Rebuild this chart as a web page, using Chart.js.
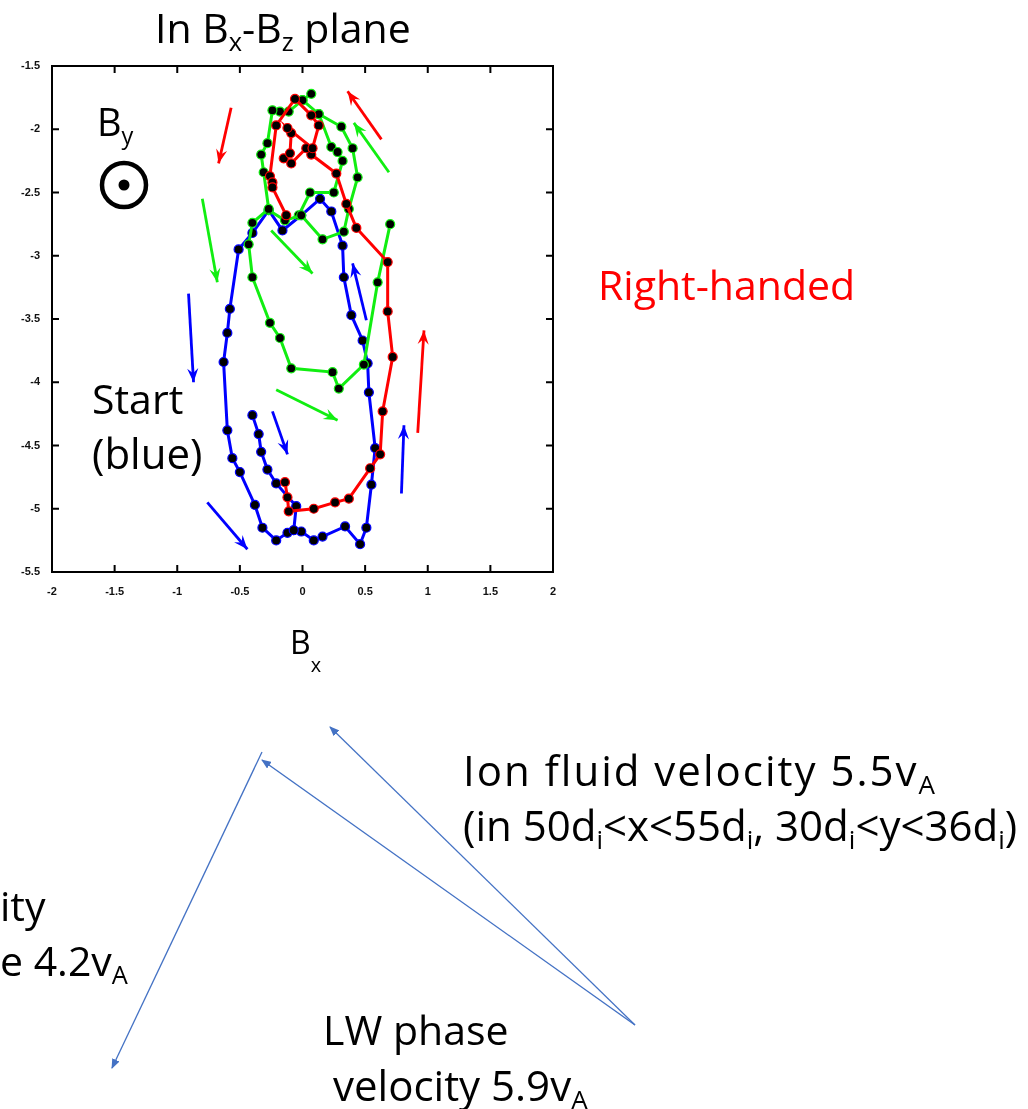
<!DOCTYPE html>
<html>
<head>
<meta charset="utf-8">
<script src="https://cdn.jsdelivr.net/npm/chart.js@4.4.1/dist/chart.umd.min.js"></script>
<style>
html, body { margin: 0; padding: 0; background: #fff; }
#wrap { position: relative; width: 1028px; height: 1109px; overflow: hidden; }
#c { position: absolute; left: 0; top: 0; }
svg { position: absolute; left: 0; top: 0; }
.t { position: absolute; font-family: 'Open Sans', sans-serif; line-height: 1; white-space: nowrap; color: #000; }
.t sub { font-size: 0.62em; vertical-align: -0.32em; line-height: 0; }
</style>
</head>
<body>
<div id="wrap">
<canvas id="c" width="1028" height="1109"></canvas>
<svg width="1028" height="1109">
  <defs>
    <marker id="ah" markerWidth="10" markerHeight="8" refX="9" refY="4" orient="auto" markerUnits="userSpaceOnUse">
      <path d="M0,0 L10,4 L0,8 z" fill="#4472c4"/>
    </marker>
  </defs>
  <circle cx="124" cy="185" r="22" fill="none" stroke="#000" stroke-width="4.5"/>
  <circle cx="124" cy="185" r="5.5" fill="#000"/>
  <line x1="635" y1="1025" x2="330" y2="727" stroke="#4472c4" stroke-width="1.3" marker-end="url(#ah)"/>
  <line x1="635" y1="1025" x2="262" y2="760" stroke="#4472c4" stroke-width="1.3" marker-end="url(#ah)"/>
  <line x1="262" y1="752" x2="112" y2="1068" stroke="#4472c4" stroke-width="1.3" marker-end="url(#ah)"/>
</svg>
<div class="t" style="left:155px;top:7px;font-size:41px">In B<sub>x</sub>-B<sub>z</sub> plane</div>
<div class="t" style="left:97px;top:102px;font-size:38px">B<sub>y</sub></div>
<div class="t" style="left:92px;top:378px;font-size:41px">Start</div>
<div class="t" style="left:92px;top:432px;font-size:42px">(blue)</div>
<div class="t" style="left:598px;top:264px;font-size:41px;color:#ff0000">Right-handed</div>
<div class="t" style="left:290px;top:626px;font-size:32px">B<sub style="vertical-align:-0.9em">x</sub></div>
<div class="t" style="left:463px;top:749px;font-size:42px;letter-spacing:2px">Ion fluid velocity 5.5v<sub>A</sub></div>
<div class="t" style="left:463px;top:804px;font-size:42px">(in 50d<sub>i</sub>&lt;x&lt;55d<sub>i</sub>, 30d<sub>i</sub>&lt;y&lt;36d<sub>i</sub>)</div>
<div class="t" style="left:0px;top:885px;font-size:41px">ity</div>
<div class="t" style="left:0px;top:940px;font-size:41px">e 4.2v<sub>A</sub></div>
<div class="t" style="left:323px;top:1009px;font-size:41px">LW phase</div>
<div class="t" style="left:333px;top:1064px;font-size:42px">velocity 5.9v<sub>A</sub></div>
</div>
<script>
// Bx, Bz samples for each time window
const bluePath = [
  [-0.40,-4.26],[-0.35,-4.41],[-0.33,-4.55],[-0.28,-4.69],[-0.21,-4.80],[-0.05,-4.98],
  [-0.07,-5.17],[-0.01,-5.18],[0.09,-5.25],[0.16,-5.22],[0.34,-5.14],[0.46,-5.28],
  [0.51,-5.15],[0.55,-4.81],[0.58,-4.52],[0.53,-4.08],[0.52,-3.85],[0.48,-3.67],
  [0.39,-3.47],[0.33,-3.17],[0.32,-2.92],[0.23,-2.65],[0.14,-2.55],[-0.01,-2.68],
  [-0.16,-2.80],[-0.27,-2.64],[-0.40,-2.82],[-0.51,-2.95],[-0.58,-3.42],[-0.60,-3.61],
  [-0.63,-3.84],[-0.60,-4.38],[-0.56,-4.60],[-0.50,-4.71],[-0.38,-4.97],[-0.32,-5.15],
  [-0.21,-5.25],[-0.12,-5.19],[-0.07,-5.17]
];
// null marks a break in the green trace
const greenPath = [
  [0.07,-1.72],[0.00,-1.77],[-0.11,-1.86],[-0.18,-1.86],[-0.24,-1.85],[-0.28,-2.11],
  [-0.33,-2.20],[-0.31,-2.34],[-0.27,-2.63],[-0.40,-2.74],[-0.43,-2.91],[-0.40,-3.17],
  [-0.26,-3.53],[-0.18,-3.65],[-0.09,-3.89],[0.24,-3.92],[0.29,-4.05],[0.49,-3.86],
  [0.60,-3.21],[0.70,-2.75],
  null,
  [0.00,-1.77],[0.13,-1.88],[0.31,-1.98],[0.40,-2.15],[0.44,-2.38],[0.37,-2.63],
  [0.33,-2.81],[0.16,-2.87],[-0.01,-2.68],[-0.14,-2.72],[-0.27,-2.64],
  null,
  [0.13,-1.88],[0.23,-2.14],[0.28,-2.18],[0.32,-2.25],[0.25,-2.50],[0.06,-2.50],[-0.03,-2.68]
];
const redPath = [
  [-0.14,-4.79],[-0.12,-4.91],[-0.11,-5.02],[0.09,-5.00],[0.26,-4.95],[0.37,-4.92],
  [0.54,-4.68],[0.62,-4.57],[0.64,-4.23],[0.72,-3.80],[0.68,-3.44],[0.68,-3.05],
  [0.43,-2.78],[0.35,-2.59],[0.27,-2.35],[0.07,-2.20],[0.03,-2.15],[-0.09,-2.27],
  [-0.15,-2.23],[-0.10,-2.19],[-0.09,-2.03],[-0.12,-1.99],[0.08,-2.15],[0.13,-1.97],
  [0.07,-1.89],[-0.06,-1.76],[-0.21,-1.97],[-0.26,-2.37],[-0.24,-2.42],[-0.24,-2.46],
  [-0.13,-2.68]
];
// direction arrows: [x0, y0, x1, y1] in Bx, Bz units
const blueArrows = [
  [-0.91,-3.30,-0.87,-4.00],[-0.24,-4.23,-0.12,-4.57],[-0.76,-4.95,-0.44,-5.32],
  [0.79,-4.88,0.81,-4.34],[0.51,-3.51,0.40,-3.06]
];
const greenArrows = [
  [0.69,-2.34,0.41,-1.95],[-0.80,-2.55,-0.68,-3.21],[-0.25,-2.80,0.08,-3.14],
  [-0.21,-4.06,0.28,-4.30]
];
const redArrows = [
  [-0.57,-1.83,-0.67,-2.27],[0.63,-2.08,0.36,-1.70],[0.92,-4.40,0.97,-3.59]
];
const xTicks = [-2,-1.5,-1,-0.5,0,0.5,1,1.5,2];
const yTicks = [-5.5,-5,-4.5,-4,-3.5,-3,-2.5,-2,-1.5];

const BLUE = '#0000ff', GREEN = '#11ee11', RED = '#ff0000';

// split a path at null entries into separate pieces
function pieces(path) {
  const out = [[]];
  path.forEach(p => {
    if (p === null) out.push([]);
    else out[out.length - 1].push({ x: p[0], y: p[1] });
  });
  return out.filter(s => s.length);
}
function series(points, color, order) {
  return {
    data: points,
    showLine: true,
    borderColor: color,
    borderWidth: 3,
    pointRadius: 4.5,
    pointBackgroundColor: '#000',
    pointBorderColor: color,
    pointBorderWidth: 1.2,
    order: order
  };
}

const datasets = [];
pieces(redPath).forEach(p => datasets.push(series(p, RED, 0)));
pieces(greenPath).forEach(p => datasets.push(series(p, GREEN, 1)));
pieces(bluePath).forEach(p => datasets.push(series(p, BLUE, 2)));

const framePlugin = {
  id: 'frame',
  afterDatasetsDraw(chart) {
    const ctx = chart.ctx, a = chart.chartArea;
    const xs = chart.scales.x, ys = chart.scales.y;
    ctx.save();
    // direction arrows
    const groups = [[blueArrows, BLUE], [greenArrows, GREEN], [redArrows, RED]];
    groups.forEach(([list, color]) => {
      list.forEach(ar => {
        const x0 = xs.getPixelForValue(ar[0]), y0 = ys.getPixelForValue(ar[1]);
        const x1 = xs.getPixelForValue(ar[2]), y1 = ys.getPixelForValue(ar[3]);
        const ang = Math.atan2(y1 - y0, x1 - x0);
        ctx.strokeStyle = color;
        ctx.fillStyle = color;
        ctx.lineWidth = 2.8;
        ctx.beginPath();
        ctx.moveTo(x0, y0);
        ctx.lineTo(x1, y1);
        ctx.stroke();
        const L = 15, w = 0.38;
        ctx.beginPath();
        ctx.moveTo(x1, y1);
        ctx.lineTo(x1 - L * Math.cos(ang - w), y1 - L * Math.sin(ang - w));
        ctx.lineTo(x1 - L * 0.6 * Math.cos(ang), y1 - L * 0.6 * Math.sin(ang));
        ctx.lineTo(x1 - L * Math.cos(ang + w), y1 - L * Math.sin(ang + w));
        ctx.closePath();
        ctx.fill();
      });
    });
    // box and inner ticks
    ctx.strokeStyle = '#000';
    ctx.lineWidth = 2;
    ctx.strokeRect(a.left, a.top, a.right - a.left, a.bottom - a.top);
    const tl = 7;
    ctx.beginPath();
    xTicks.forEach(v => {
      const px = xs.getPixelForValue(v);
      ctx.moveTo(px, a.bottom); ctx.lineTo(px, a.bottom - tl);
      ctx.moveTo(px, a.top); ctx.lineTo(px, a.top + tl);
    });
    yTicks.forEach(v => {
      const py = ys.getPixelForValue(v);
      ctx.moveTo(a.left, py); ctx.lineTo(a.left + tl, py);
      ctx.moveTo(a.right, py); ctx.lineTo(a.right - tl, py);
    });
    ctx.stroke();
    ctx.restore();
  }
};

const tickFont = { family: 'Liberation Sans, Arial, sans-serif', size: 11, weight: 'bold' };

new Chart(document.getElementById('c'), {
  type: 'scatter',
  data: { datasets: datasets },
  options: {
    responsive: false,
    animation: false,
    layout: { padding: { left: 0, top: 66, right: 475, bottom: 507 } },
    plugins: { legend: { display: false }, tooltip: { enabled: false } },
    scales: {
      x: {
        type: 'linear',
        min: -2, max: 2,
        afterBuildTicks: s => { s.ticks = xTicks.map(v => ({ value: v })); },
        afterFit: s => { s.height = 30; },
        grid: { display: false, drawTicks: false },
        border: { display: false },
        ticks: { color: '#111', font: tickFont, padding: 13, maxRotation: 0,
                 callback: v => String(v) }
      },
      y: {
        type: 'linear',
        min: -5.5, max: -1.5,
        afterBuildTicks: s => { s.ticks = yTicks.map(v => ({ value: v })); },
        afterFit: s => { s.width = 52; },
        grid: { display: false, drawTicks: false },
        border: { display: false },
        ticks: { color: '#111', font: tickFont, padding: 12,
                 callback: v => String(v) }
      }
    }
  },
  plugins: [framePlugin]
});
</script>
</body>
</html>
